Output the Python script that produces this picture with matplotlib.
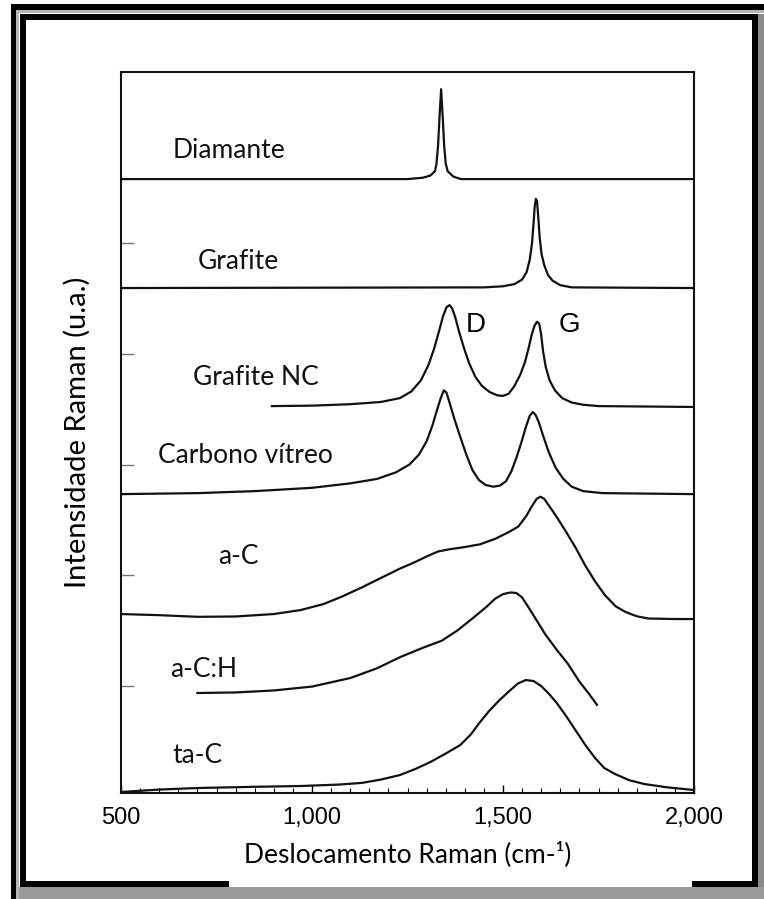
"""Espectros Raman de diferentes formas de carbono (curvas empilhadas)."""

import matplotlib.pyplot as plt
from matplotlib.patches import Rectangle
from matplotlib.ticker import MultipleLocator

W, H = 764, 899

# ---------------------------------------------------------------------------
# Dados: deslocamento Raman (cm-1) e intensidade empilhada (u.a.)
# ---------------------------------------------------------------------------
diamante_x = [500, 1250, 1290, 1310, 1322, 1326, 1330, 1334, 1338, 1342, 1346, 1350, 1355, 1370, 1390, 2000]
diamante_y = [5.578, 5.578, 5.59, 5.61, 5.65, 5.72, 5.88, 6.15, 6.39, 6.15, 5.88, 5.72, 5.65, 5.60, 5.578, 5.578]

grafite_x = [500, 1450, 1500, 1530, 1550, 1562, 1570, 1576, 1580, 1583, 1586, 1589, 1592, 1596, 1601,
             1608, 1618, 1630, 1650, 1680, 2000]
grafite_y = [4.594, 4.60, 4.61, 4.63, 4.67, 4.74, 4.85, 5.00, 5.18, 5.33, 5.40, 5.38, 5.25, 5.05, 4.90,
             4.80, 4.71, 4.66, 4.62, 4.60, 4.594]

grafite_nc_x = [895, 1000, 1100, 1180, 1230, 1260, 1285, 1305, 1320, 1333, 1343, 1352, 1360, 1367, 1375,
                1385, 1398, 1412, 1428, 1445, 1465, 1485, 1500, 1515, 1530, 1545, 1557, 1567, 1575, 1582,
                1589, 1595, 1600, 1605, 1612, 1622, 1636, 1655, 1680, 1710, 1750, 2000]
grafite_nc_y = [3.528, 3.532, 3.545, 3.565, 3.60, 3.66, 3.76, 3.90, 4.05, 4.21, 4.34, 4.42, 4.44, 4.41, 4.33,
                4.20, 4.05, 3.91, 3.79, 3.71, 3.655, 3.625, 3.62, 3.64, 3.71, 3.81, 3.92, 4.05, 4.17, 4.25,
                4.29, 4.27, 4.17, 4.02, 3.88, 3.76, 3.67, 3.60, 3.56, 3.54, 3.528, 3.52]

vitreo_x = [500, 700, 850, 1000, 1100, 1170, 1220, 1255, 1280, 1300, 1315, 1327, 1337, 1345, 1352, 1360,
            1372, 1388, 1405, 1420, 1437, 1455, 1475, 1492, 1508, 1522, 1535, 1548, 1560, 1570, 1578,
            1585, 1594, 1605, 1620, 1638, 1658, 1680, 1710, 1760, 2000]
vitreo_y = [2.733, 2.742, 2.76, 2.79, 2.83, 2.87, 2.93, 3.00, 3.09, 3.21, 3.35, 3.49, 3.60, 3.67, 3.65, 3.56,
            3.42, 3.25, 3.08, 2.95, 2.86, 2.815, 2.80, 2.81, 2.85, 2.94, 3.06, 3.20, 3.34, 3.44, 3.474,
            3.45, 3.38, 3.26, 3.11, 2.97, 2.87, 2.80, 2.76, 2.742, 2.733]

ac_x = [500, 600, 700, 800, 900, 970, 1030, 1080, 1130, 1180, 1230, 1270, 1300, 1330, 1360, 1400, 1440,
        1480, 1515, 1540, 1560, 1575, 1588, 1598, 1608, 1620, 1640, 1662, 1690, 1715, 1740, 1767, 1795,
        1820, 1850, 1880, 1950, 2000]
ac_y = [1.650, 1.64, 1.625, 1.628, 1.65, 1.686, 1.74, 1.81, 1.89, 1.975, 2.06, 2.12, 2.17, 2.215, 2.235,
        2.255, 2.28, 2.33, 2.39, 2.44, 2.53, 2.62, 2.69, 2.71, 2.69, 2.63, 2.53, 2.41, 2.25, 2.09, 1.95,
        1.82, 1.72, 1.67, 1.63, 1.61, 1.605, 1.605]

ach_x = [700, 800, 900, 1000, 1100, 1170, 1230, 1290, 1340, 1380, 1420, 1455, 1480, 1500, 1520, 1535,
         1550, 1565, 1585, 1610, 1640, 1670, 1700, 1725, 1746]
ach_y = [0.937, 0.942, 0.96, 0.995, 1.072, 1.16, 1.26, 1.345, 1.41, 1.50, 1.61, 1.71, 1.79, 1.83, 1.845,
         1.84, 1.80, 1.72, 1.61, 1.47, 1.33, 1.20, 1.04, 0.93, 0.83]

tac_x = [500, 600, 700, 850, 970, 1070, 1130, 1180, 1230, 1270, 1310, 1350, 1388, 1415, 1440, 1465, 1490,
         1515, 1540, 1560, 1580, 1600, 1620, 1640, 1665, 1690, 1715, 1741, 1765, 1793, 1830, 1870, 1930,
         2000]
tac_y = [0.043, 0.065, 0.079, 0.09, 0.097, 0.11, 0.125, 0.155, 0.196, 0.25, 0.314, 0.39, 0.467, 0.56,
         0.675, 0.78, 0.87, 0.95, 1.025, 1.054, 1.045, 1.00, 0.93, 0.85, 0.73, 0.60, 0.47, 0.35, 0.26,
         0.206, 0.15, 0.115, 0.085, 0.061]

curve_names = ["Diamante", "Grafite", "Grafite NC", "Carbono vítreo", "a-C", "a-C:H", "ta-C"]
curves = [
    (diamante_x, diamante_y),
    (grafite_x, grafite_y),
    (grafite_nc_x, grafite_nc_y),
    (vitreo_x, vitreo_y),
    (ac_x, ac_y),
    (ach_x, ach_y),
    (tac_x, tac_y),
]
label_pos = [(783, 5.84), (806, 4.83), (853, 3.79), (825, 3.08), (806, 2.17), (715, 1.15), (699, 0.377)]

x_ticks = [500, 1000, 1500, 2000]
x_tick_labels = ["500", "1,000", "1,500", "2,000"]
y_ticks = [1, 2, 3, 4, 5]


def frame_bar(fig, x0, y0, x1, y1, color):
    """Retângulo da moldura em coordenadas de pixel (origem no topo)."""
    fig.add_artist(Rectangle(
        (x0 / W, 1 - y1 / H), (x1 - x0) / W, (y1 - y0) / H,
        transform=fig.transFigure, facecolor=color, edgecolor="none", zorder=0,
    ))


fig = plt.figure(figsize=(W / 100, H / 100), dpi=100)

# moldura dupla com sombra
frame_bar(fig, 11, 4, 764, 10, "black")
frame_bar(fig, 11, 4, 16, 899, "black")
frame_bar(fig, 16, 10, 764, 13, "#b5b5b5")
frame_bar(fig, 16, 10, 19, 899, "#b5b5b5")
frame_bar(fig, 758, 14, 764, 899, "#8a8a8a")
frame_bar(fig, 19, 887, 764, 899, "#9a9a9a")
frame_bar(fig, 20, 14, 758, 20, "black")
frame_bar(fig, 20, 14, 26, 887, "black")
frame_bar(fig, 752, 14, 758, 887, "black")
frame_bar(fig, 20, 881, 229, 887, "black")
frame_bar(fig, 692, 881, 758, 887, "black")

ax = fig.add_axes([121 / W, 1 - 793 / H, (694 - 121) / W, (793 - 72) / H])
ax.set_zorder(2)

for (xs, ys) in curves:
    ax.plot(xs, ys, color="#111111", linewidth=1.6, solid_joinstyle="round")

for name, (lx, ly) in zip(curve_names, label_pos):
    ax.text(lx, ly, name, ha="center", va="center", fontsize=19, family="Lato", color="#111111")

ax.text(1429, 4.26, "D", ha="center", va="center", fontsize=20, family="Liberation Sans")
ax.text(1675, 4.26, "G", ha="center", va="center", fontsize=20, family="Liberation Sans")

ax.set_xlim(500, 2000)
ax.set_ylim(0.034, 6.545)
ax.set_xticks(x_ticks)
ax.set_xticklabels(x_tick_labels, family="Liberation Sans", fontsize=17)
ax.xaxis.set_minor_locator(MultipleLocator(50))
ax.set_yticks(y_ticks)
ax.set_yticklabels([])
ax.tick_params(axis="x", which="major", direction="in", length=6, width=1.0, pad=10)
ax.tick_params(axis="x", which="minor", direction="in", length=3.5, width=0.8)
ax.tick_params(axis="y", direction="in", length=9, width=1.0, color="#777777")

for spine in ax.spines.values():
    spine.set_linewidth(1.5)
    spine.set_color("#111111")

ax.set_xlabel("Deslocamento Raman (cm-¹)", family="Lato", fontsize=19, labelpad=9)
ax.set_ylabel("Intensidade Raman (u.a.)", family="Lato", fontsize=21, labelpad=18)

fig.savefig("out.png", dpi=100)
